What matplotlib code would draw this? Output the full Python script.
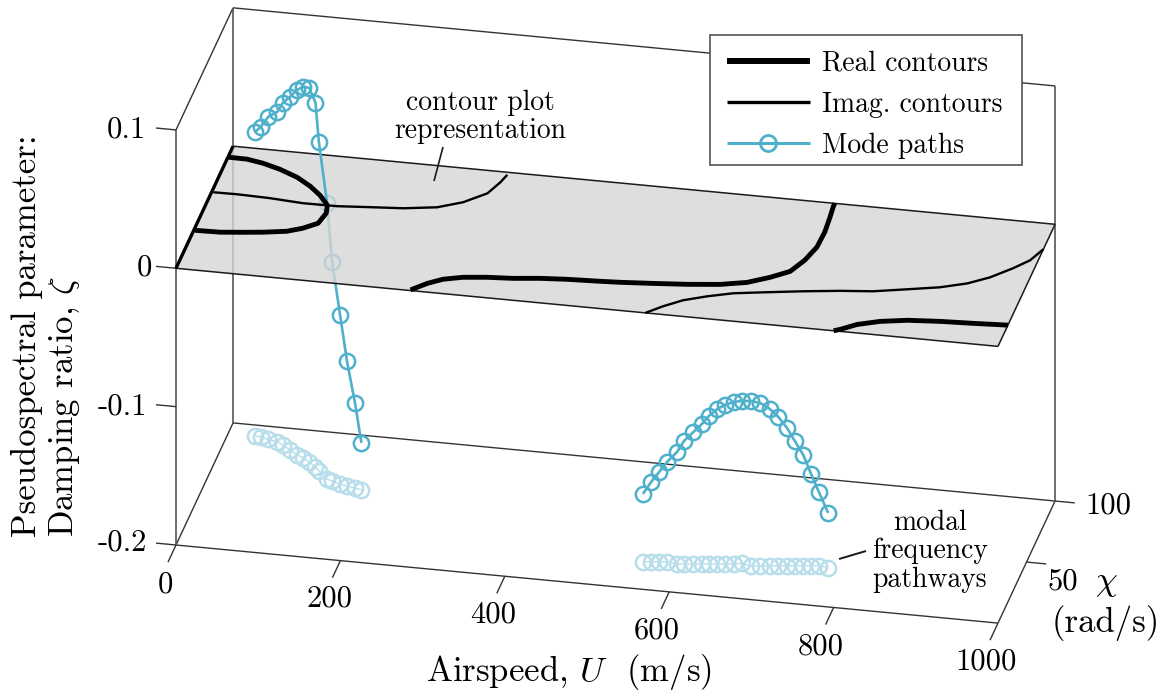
import matplotlib
matplotlib.use("Agg")

import matplotlib.pyplot as plt
from matplotlib.lines import Line2D
from matplotlib.patches import Rectangle
from mpl_toolkits.mplot3d import proj3d
from mpl_toolkits.mplot3d.art3d import Poly3DCollection

plt.rcParams["font.family"] = "cmr10"
plt.rcParams["mathtext.fontset"] = "cm"
plt.rcParams["axes.unicode_minus"] = False
plt.rcParams["lines.solid_joinstyle"] = "round"
plt.rcParams["lines.solid_capstyle"] = "butt"

# Mode paths (airspeed, chi, zeta)
mode1_u = [33, 40, 50, 62, 70, 81, 92, 101, 110, 120, 126, 140, 147, 158, 167, 177.5, 186]
mode1_chi = [91.5, 91, 89.7, 88.4, 86.5, 83, 79.7, 77.8, 75, 71.6, 68.8, 63, 61.8, 60, 59, 58, 57]
mode1_zeta = [0.0198, 0.0242, 0.0332, 0.0386, 0.0473, 0.0552, 0.0639, 0.0683, 0.0704, 0.0632,
              0.0379, -0.0004, -0.0416, -0.0778, -0.1096, -0.1385, -0.166]

mode2_u = [553, 562.5, 572, 581, 594, 602, 613, 623, 631, 641, 650, 660,
           669, 681, 692, 703, 713, 723, 732, 742, 751, 760, 772]
mode2_chi = [21.7, 22.3, 22.9, 23.5, 22.4, 22.9, 23.6, 24.3, 24.8, 25.4, 26, 26.7,
             27.8, 26.3, 27, 28, 28.6, 29.3, 29.9, 30.5, 31.1, 31.7, 30.8]
mode2_zeta = [-0.151, -0.1424, -0.1351, -0.1279, -0.119, -0.1111, -0.1046, -0.0988, -0.093,
              -0.0879, -0.085, -0.0829, -0.0826, -0.0807, -0.0821, -0.0867, -0.0925, -0.1004,
              -0.1098, -0.12, -0.1337, -0.1467, -0.1604]

# Contours on the zeta = 0 plane (airspeed, chi)
real1_u = [0, 23, 44, 67, 91.5, 111.5, 128, 142, 145, 141, 126, 109, 82, 55, 32, 1]
real1_chi = [91, 90.9, 88.9, 85.4, 80.4, 74.4, 68, 60.7, 54.4, 45.9, 40.9, 37.3, 34.8, 33, 31.6, 31.2]
real2_u = [285, 301, 317, 339, 367, 398, 429, 461.5, 501, 525, 564, 604, 642.5, 673, 697, 717,
           728, 735, 736, 734, 732, 732]
real2_chi = [0.5, 6.9, 11.3, 14.3, 16.1, 17.2, 19.2, 20.5, 21.4, 22.1, 23.7, 25.5, 27.9, 31.5,
             37.2, 43.3, 53.2, 64.3, 76.7, 88.7, 97.6, 100]
real3_u = [800, 807, 824, 849, 880, 919, 958, 1000]
real3_chi = [0, 1.6, 6.7, 10.8, 13.7, 15.3, 16.2, 17.4]
imag1_u = [2, 31, 71, 112.6, 154, 193, 232, 271, 298.5, 322, 331, 335]
imag1_chi = [62.4, 62.6, 62, 60.5, 60.7, 62.4, 64, 67.3, 73.2, 82, 91.6, 98]
imag2_u = [571, 588, 608, 634, 662.5, 697, 743, 786, 824.5, 863, 900, 930, 953, 975, 990.5, 1000]
imag2_chi = [0, 6.5, 12.7, 17.6, 21.9, 24.9, 28.7, 31.8, 33.9, 38, 42, 47.1, 53.5, 62.4, 69.9, 79.6]

u_ticks = [0, 200, 400, 600, 800, 1000]
chi_ticks = [50, 100]
zeta_ticks = [-0.2, -0.1, 0, 0.1]

BLUE = "#4fb0cc"
LIGHT = "#b7deea"
AXC = "#333333"

fig = plt.figure(figsize=(11.67, 6.98), dpi=100)
ax = fig.add_axes([0.1, 0.1, 0.8, 0.8], projection="3d", computed_zorder=False, proj_type="ortho")
ax.view_init(elev=26.8, azim=-78.1)
ax.set_box_aspect((840, 276.7, 465))
ax.set_axis_off()
ax.patch.set_visible(False)

# box edges
edges = [
    ([0, 1000], [0, 0], [-0.2, -0.2]),
    ([0, 1000], [100, 100], [-0.2, -0.2]),
    ([0, 0], [0, 100], [-0.2, -0.2]),
    ([1000, 1000], [0, 100], [-0.2, -0.2]),
    ([0, 0], [0, 100], [0.1, 0.1]),
    ([0, 1000], [100, 100], [0.1, 0.1]),
]
for xs, ys, zs in edges:
    ax.plot(xs, ys, zs, color=AXC, lw=1.0, zorder=1)
for xs, ys in [([0, 0], [0, 0]), ([0, 0], [100, 100]), ([1000, 1000], [100, 100])]:
    ax.plot(xs, ys, [-0.2, 0.1], color="#555555", lw=1.2, zorder=1)

# ticks
for t in u_ticks:
    ax.plot([t, t], [0, -14], [-0.2, -0.2], color=AXC, lw=1.0, zorder=1)
for t in chi_ticks:
    ax.plot([1000, 1024], [t, t], [-0.2, -0.2], color=AXC, lw=1.0, zorder=1)
for t in zeta_ticks:
    ax.plot([0, -24.3], [0, 0], [t, t], color=AXC, lw=1.0, zorder=1)

# frequency pathways on the floor
marker_style = dict(marker="o", ms=11, mfc="none", mew=1.8)
for us, chis in [(mode1_u, mode1_chi), (mode2_u, mode2_chi)]:
    ax.plot(us, chis, [-0.2] * len(us), color=LIGHT, lw=1.0, zorder=2, **marker_style)

# parts of the mode paths below the plane
ax.plot(mode1_u[11:], mode1_chi[11:], mode1_zeta[11:], color=BLUE, lw=1.9, zorder=2, **marker_style)
ax.plot(mode2_u, mode2_chi, mode2_zeta, color=BLUE, lw=1.9, zorder=2, **marker_style)

# contour plane
plane = Poly3DCollection([[(0, 0, 0), (1000, 0, 0), (1000, 100, 0), (0, 100, 0)]],
                         facecolor="#d6d6d6", edgecolor="none", alpha=0.8, zorder=3)
ax.add_collection3d(plane)
for xs, ys in [([0, 1000], [0, 0]), ([0, 1000], [100, 100]), ([1000, 1000], [0, 100])]:
    ax.plot(xs, ys, [0, 0], color="#1a1a1a", lw=1.1, zorder=4)

# part of mode 1 above the plane
ax.plot(mode1_u[:12], mode1_chi[:12], mode1_zeta[:12], color=BLUE, lw=1.9, zorder=4)
ax.plot(mode1_u[:11], mode1_chi[:11], mode1_zeta[:11], color=BLUE, lw=0, zorder=4, **marker_style)

# contours
ax.plot([0, 0], [0, 100], [0, 0], color="black", lw=2.4, zorder=5)
for us, chis in [(real1_u, real1_chi), (real2_u, real2_chi), (real3_u, real3_chi)]:
    ax.plot(us, chis, [0] * len(us), color="black", lw=3.5, zorder=5)
for us, chis in [(imag1_u, imag1_chi), (imag2_u, imag2_chi)]:
    ax.plot(us, chis, [0] * len(us), color="black", lw=1.7, zorder=5)

ax.set_xlim(0, 1000, view_margin=0)
ax.set_ylim(0, 100, view_margin=0)
ax.set_zlim(-0.2, 0.1, view_margin=0)


def to_px(u, chi, z):
    # where a data point lands, top-left pixel origin
    fig.canvas.draw()
    x2, y2, _ = proj3d.proj_transform(u, chi, z, ax.get_proj())
    px, py = ax.transData.transform((x2, y2))
    return px, 698 - py


# fit the 3D box to the figure: U axis 822 px long, origin at (176, 545)
size = 900.0
left, bottom = 130.0, 0.0
ax.set_position([left / 1167, bottom / 698, size / 1167, size / 698])
p0 = to_px(0, 0, -0.2)
p1 = to_px(1000, 0, -0.2)
size *= 822.0 / (p1[0] - p0[0])
ax.set_position([left / 1167, bottom / 698, size / 1167, size / 698])
p0 = to_px(0, 0, -0.2)
left += 176 - p0[0]
bottom += p0[1] - 545
ax.set_position([left / 1167, bottom / 698, size / 1167, size / 698])

# overlay in pixels for the text
ov = fig.add_axes([0, 0, 1, 1])
ov.set_xlim(0, 1167)
ov.set_ylim(698, 0)
ov.axis("off")

tick_fs = 22
label_fs = 25
note_fs = 19.9
for t, x, y in zip(u_ticks, [165, 330, 493, 657, 821, 986], [585, 599, 615, 631, 647, 662]):
    ov.text(x, y, str(t), fontsize=tick_fs, ha="center", va="center")
for t, x, y in zip(["-0.2", "-0.1", "0", "0.1"], [147, 147, 152, 146], [543, 407, 268, 130]):
    ov.text(x, y, t, fontsize=tick_fs, ha="right", va="center")
ov.text(1063, 582, "50", fontsize=tick_fs, ha="center", va="center")
ov.text(1108, 506, "100", fontsize=tick_fs, ha="center", va="center")

ov.text(569, 672, r"Airspeed, $U$  (m/s)", fontsize=label_fs, ha="center", va="center")
ov.text(46, 336, "Pseudospectral parameter:\n" + r"Damping ratio, $\zeta$", fontsize=label_fs,
        rotation=90, ha="center", va="center", multialignment="left", linespacing=1.15)
ov.text(1106, 583, r"$\chi$", fontsize=label_fs, ha="center", va="center")
ov.text(1106, 623, "(rad/s)", fontsize=label_fs, ha="center", va="center")

ov.text(480, 117, "contour plot\nrepresentation", fontsize=note_fs, ha="center", va="center",
        multialignment="center", linespacing=1.1)
ov.plot([443, 434], [147, 181], color="#1a1a1a", lw=1.2)
ov.text(930, 551, "modal\nfrequency\npathways", fontsize=note_fs, ha="center", va="center",
        multialignment="center", linespacing=1.1)
ov.plot([839, 866], [559, 551], color="#1a1a1a", lw=1.4)

# legend box
ov.add_patch(Rectangle((710, 35), 312, 130, facecolor="white", edgecolor="#444444", lw=1.1, zorder=5))
handles = [
    Line2D([], [], color="black", lw=4.3),
    Line2D([], [], color="black", lw=2.4),
    Line2D([], [], color=BLUE, lw=2.2, marker="o", ms=11.5, mfc="none", mew=2.0),
]
leg = ov.legend(handles, ["Real contours", "Imag. contours", "Mode paths"], loc="upper left",
                bbox_to_anchor=(727, 50), bbox_transform=ov.transData, borderaxespad=0,
                fontsize=note_fs, handlelength=3.0, handletextpad=0.44, labelspacing=0.54,
                borderpad=0, frameon=False)
leg.set_zorder(6)

plt.savefig("out.png", dpi=100)
